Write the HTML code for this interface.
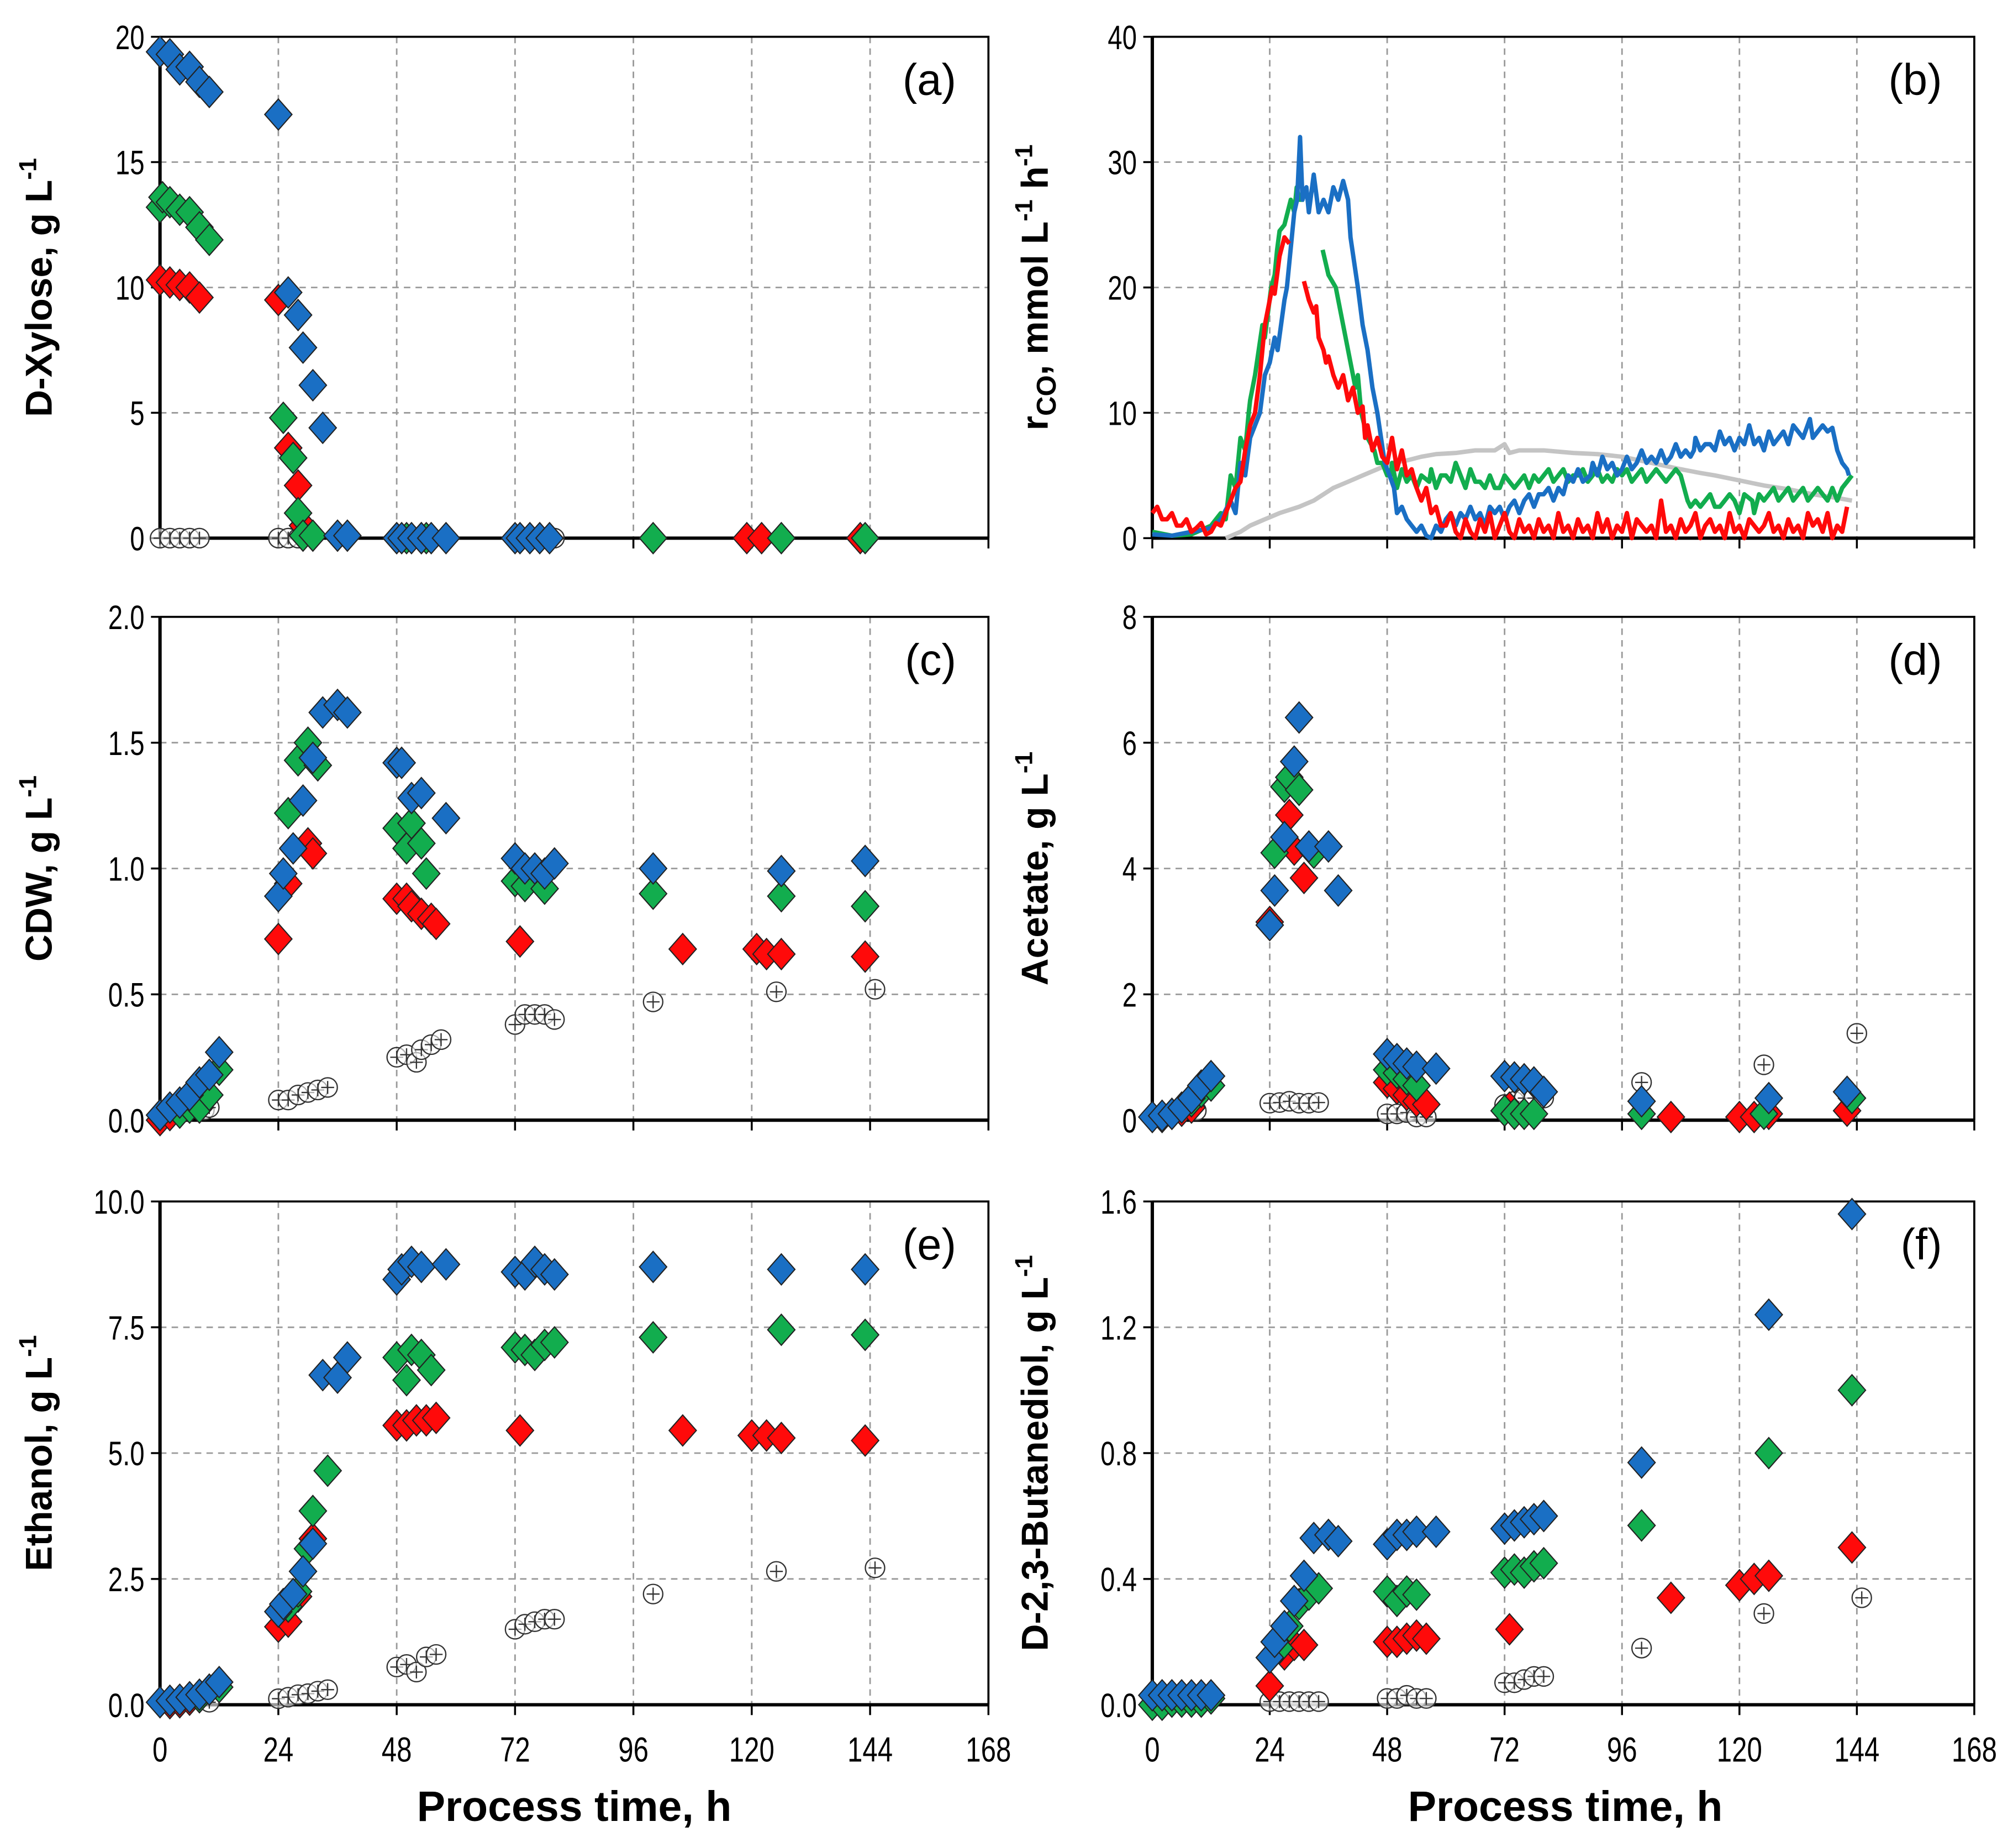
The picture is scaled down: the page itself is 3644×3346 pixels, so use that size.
<!DOCTYPE html>
<html><head><meta charset="utf-8"><style>
html,body{margin:0;padding:0;background:#fff}
svg{display:block}
text{font-family:"Liberation Sans",Arial,sans-serif}
</style></head><body>
<svg id="fig" width="3644" height="3346" viewBox="0 0 1560 1432" preserveAspectRatio="none" xmlns="http://www.w3.org/2000/svg"></svg>
<script>
const xTicks=[0,24,48,72,96,120,144,168];
// Panel (a) D-Xylose
const aBlue=[[0,19.4],[2,19.3],[4,18.7],[6,18.8],[8,18.2],[10,17.8],[24,16.9],[26,9.8],[28,8.9],[29,7.6],[31,6.1],[33,4.4],[36,0.1],[38,0.1],[48,0],[49,0],[51,0],[53,0],[55,0],[58,0],[72,0],[73,0],[75,0],[77,0],[79,0]];
const aGreen=[[0,13.2],[0.5,13.6],[2,13.4],[4,13.1],[6,13.0],[8,12.4],[10,11.9],[25,4.8],[27,3.2],[28,1.0],[29,0.1],[31,0.1],[50,0],[54,0],[100,0],[126,0],[143,0]];
const aRed=[[0,10.3],[2,10.2],[4,10.1],[6,10.0],[8,9.6],[24,9.5],[26,3.6],[28,2.1],[29,0.5],[48,0],[53,0],[119,0],[122,0],[142,0]];
const aBlack=[[0,0],[2,0],[4,0],[6,0],[8,0],[24,0],[26,0],[28,0],[48,0],[80,0]];
// Panel (b) rCO lines
const bBlue=[[0,0.3],[4,0.2],[8,0.5],[12,0.8],[14,1.5],[16,3],[17,2],[18,6],[19,5],[20,8],[21,9],[22,10],[23,13],[24,14],[25,16],[25.6,15],[27,19],[27.5,20],[29,26],[29.6,27],[30.2,32],[30.7,27],[31.5,28],[32,26],[33,29],[34,26],[35,27],[36,26],[37,28],[38,27],[39,28.5],[40,27],[40.5,24],[42,20],[43,17],[44,15],[45,12],[46,10],[47.5,6],[48.5,5],[49.4,4],[50,2],[51,2.5],[52,1.5],[53,1],[54,0.5],[55,1],[56,0.2],[57,0],[58,1],[59,0.5],[60,1.5],[61,2],[62,1],[63,2],[64,1.5],[65,2.5],[66,1.5],[67,2],[68,1],[69,2.5],[70,2],[71,2.5],[72,1.5],[73,2.5],[74,3],[75,2],[76,3],[77,3.5],[78,2.5],[79,3.5],[80,3.5],[81,4],[82,3],[83,4],[84,3.5],[85,5],[86,4.5],[87,5.5],[88,4.5],[89.5,5],[90,6],[91,5],[92,6.5],[93,5.5],[94,6],[95,5],[96,5.5],[97,6.5],[98,5.5],[99,6],[100,7],[101,6],[102,6.5],[103,6],[104,7],[105,6],[106,6.5],[107,7.5],[108,6.5],[109,7],[110,6.5],[110.7,7],[111,8],[112,7],[113,7.5],[114,7.5],[115,7],[116,8.5],[117,7.5],[118,8],[119,7],[120,8],[121,7.5],[122,9],[123,7.5],[124,8],[125,7],[126,8.5],[127,7.5],[128,8],[129,8.5],[130,7.5],[131,9],[132,8.5],[133,8],[134.4,9.5],[135,8],[136,8.5],[137,9],[138,8.5],[139,8.8],[140,7],[141,6],[142,5.5],[142.4,5]];
const bGreen=[[0,0.5],[4,0.2],[8,0.3],[12,1],[14,2],[15,1.5],[16,5],[17,4],[18,8],[19,7],[19.7,10],[20,11],[21,13],[22.5,17],[23,16],[24.3,20],[25,21],[25.5,23],[26,24.5],[27,25],[28.3,27],[29,26],[29.5,28],[30,27],[31,27],null,[34.8,23],[36,21],[37.5,20],[38,19],[39,17],[40,15],[41.5,12],[42,13],[42.7,10],[44,8],[45.4,7],[46,6],[47,6],[48,5],[48.7,5],[49,6],[50,4],[51,5.5],[52,4.5],[53,5],[54,4],[55,5],[56.6,4.5],[57,5.5],[58,4],[59,5],[60,5],[61,4.5],[62,6],[63,5],[64,4],[65,5.5],[66,4.5],[67,4.5],[68,4],[69,5],[70,4],[71,4],[72,5],[73,4.5],[74,4],[75,4.5],[76,5],[77,4],[78,5],[79,4.5],[80,5],[81,5.5],[82,4.5],[83,5],[84,5.5],[85,4.5],[86,5],[87,5],[88,5.5],[89,4.5],[90,5],[91,5.5],[92,4.5],[93,5],[94,4.5],[95,5.5],[96,5],[97,5.5],[98,4.5],[99,5],[100,5.5],[101,4.5],[102,5],[103,5.5],[104,5],[105,4.5],[106,5],[107,5.5],[108,5],[109.4,3],[110,2.5],[111,3],[112,2.5],[113,3],[114,3.5],[115,2.5],[116,2.5],[117,3],[118,3.5],[119,3],[120,2],[121,3.5],[122.6,3],[123,2],[124,3.5],[125,3],[126,3.5],[127,4],[128,3],[129,3.5],[130,4],[131,3],[132,3.5],[133,4],[134,3],[135,3.5],[136,4],[137,3.5],[138,3],[139,4],[140,3],[141,4],[142,4.5],[143,5]];
const bRed=[[0,2],[1,2.5],[2,1.5],[3,1.5],[4,2],[5,1],[6,1],[7,1.5],[8,0.5],[9,0.8],[10,1.2],[11,0.3],[12,0.5],[13,1.2],[14,1],[15.5,2.5],[17,4],[18,4.5],[19,7],[20,9],[21,10],[22,13],[23,17],[24.5,20],[25,19.5],[26,22.5],[27,24],[28,23.5],null,[31,20.5],[32,19],[33,18],[33.5,18.5],[34,16],[35,15],[35.5,14],[36,14.5],[37,13],[38,12],[39,13],[40,11],[41,12],[42,10],[43,10.5],[43.5,8],[44,9],[45,7],[46,8],[47,6.5],[48,6],[49,8],[50,5.5],[51,7],[52,5],[53,5.5],[54,4],[55,3],[56,4],[57,2],[58,2.5],[59,1],[60,1],[61,2],[62,0.5],[63,0],[64,1.5],[65,0.5],[66,0],[67,1.5],[68,0.5],[69,2],[70,0],[71,1],[72,2],[73,0.5],[74,0],[75,1.5],[76,0.5],[77,1],[78,0],[79,1.5],[80,0.5],[81,1],[82,0],[83,2],[84,0.5],[85,1],[86,0],[87,1.5],[88,0.5],[89,1],[90,0],[91,2],[92,0.5],[93,1.5],[94,0],[95,1],[96,0.5],[97,2],[98,0],[99,1.5],[100,1],[101,0.5],[102,1],[103,0],[104,3],[105,0.5],[106,1],[107,0],[108,1.5],[109,0.5],[110,1],[111,2],[112,0],[113,1],[114,1.5],[115,0.5],[116,1],[117,0],[118,2],[119,0.5],[120,1],[121,0],[122,1.5],[123,1],[124,0.5],[125,1],[126,2],[127,0.5],[128,1],[129,0],[130,1.5],[131,0.5],[132,1],[133,0],[134,2],[135,1],[136,1.5],[137,0.5],[138,2],[139,0],[140,1],[141,0.5],[142,2.5]];
const bGray=[[15,0],[18,0.5],[20,1],[23,1.5],[26,2],[30,2.5],[33,3],[37,4],[40,4.5],[43,5],[46,5.5],[49,6],[52,6.2],[55,6.5],[58,6.7],[62,6.8],[66,7],[70,7],[72,7.5],[73,6.8],[75,7],[80,7],[86,6.8],[91,6.7],[96,6.5],[102,6],[108,5.5],[112,5.2],[115,5],[120,4.6],[125,4.2],[130,3.9],[135,3.5],[140,3.2],[143,3]];
// Panel (c) CDW
const cBlue=[[0,0.02],[2,0.05],[4,0.07],[6,0.1],[8,0.15],[10,0.18],[12,0.27],[24,0.89],[25,0.98],[27,1.08],[29,1.27],[31,1.44],[33,1.62],[36,1.65],[38,1.62],[48,1.42],[49,1.42],[51,1.28],[53,1.3],[58,1.2],[72,1.04],[74,1.0],[76,1.0],[78,0.98],[80,1.02],[100,1.0],[126,0.99],[143,1.03]];
const cGreen=[[4,0.03],[6,0.05],[8,0.05],[10,0.1],[12,0.2],[26,1.22],[28,1.43],[30,1.5],[32,1.41],[48,1.16],[50,1.08],[51,1.18],[53,1.1],[54,0.98],[72,0.95],[74,0.93],[78,0.92],[100,0.9],[126,0.89],[143,0.85]];
const cRed=[[0,0.0],[2,0.02],[4,0.04],[6,0.05],[8,0.07],[24,0.72],[26,0.94],[30,1.1],[31,1.06],[48,0.88],[50,0.88],[51,0.85],[53,0.82],[55,0.8],[56,0.78],[73,0.71],[106,0.68],[121,0.68],[123,0.66],[126,0.66],[143,0.65]];
const cBlack=[[9,0.04],[10,0.05],[24,0.08],[26,0.08],[28,0.1],[30,0.11],[32,0.12],[34,0.13],[48,0.25],[50,0.26],[52,0.23],[53,0.28],[55,0.3],[57,0.32],[72,0.38],[74,0.42],[76,0.42],[78,0.42],[80,0.4],[100,0.47],[125,0.51],[145,0.52]];
// Panel (d) Acetate
const dBlue=[[0,0.05],[2,0.07],[4,0.1],[6,0.2],[8,0.35],[10,0.55],[12,0.7],[24,3.1],[25,3.65],[27,4.5],[29,5.7],[30,6.4],[32,4.35],[36,4.35],[38,3.65],[48,1.05],[50,0.97],[52,0.9],[54,0.85],[58,0.82],[72,0.7],[74,0.68],[76,0.65],[78,0.6],[80,0.45],[100,0.3],[126,0.35],[142,0.45]];
const dGreen=[[8,0.3],[10,0.45],[12,0.55],[25,4.25],[27,5.3],[28,5.45],[30,5.25],[33,4.25],[48,0.8],[50,0.75],[52,0.65],[54,0.55],[72,0.15],[74,0.1],[76,0.1],[78,0.1],[100,0.1],[125,0.1],[143,0.35]];
const dRed=[[2,0.05],[4,0.1],[6,0.15],[8,0.2],[24,3.15],[28,4.85],[29,4.3],[31,3.85],[48,0.6],[50,0.5],[52,0.4],[54,0.3],[56,0.25],[73,0.2],[106,0.05],[120,0.05],[123,0.05],[126,0.1],[142,0.15]];
const dBlack=[[9,0.15],[24,0.27],[26,0.28],[28,0.3],[30,0.27],[32,0.27],[34,0.28],[48,0.1],[50,0.1],[52,0.12],[54,0.05],[56,0.05],[72,0.25],[74,0.3],[76,0.35],[78,0.35],[80,0.35],[100,0.6],[125,0.88],[144,1.38]];
// Panel (e) Ethanol
const eBlue=[[0,0.05],[2,0.08],[4,0.1],[6,0.15],[8,0.2],[10,0.3],[12,0.45],[24,1.85],[25,2.0],[27,2.2],[29,2.65],[31,3.2],[33,6.55],[36,6.5],[38,6.9],[48,8.45],[49,8.65],[51,8.8],[53,8.7],[58,8.75],[72,8.6],[74,8.55],[76,8.8],[78,8.65],[80,8.55],[100,8.7],[126,8.65],[143,8.65]];
const eGreen=[[8,0.15],[10,0.3],[12,0.35],[26,1.95],[28,2.25],[30,3.1],[31,3.85],[34,4.65],[48,6.9],[50,6.45],[51,7.05],[53,6.95],[55,6.65],[72,7.1],[74,7.05],[76,6.95],[78,7.15],[80,7.2],[100,7.3],[126,7.45],[143,7.35]];
const eRed=[[2,0.03],[4,0.05],[6,0.1],[8,0.15],[24,1.55],[26,1.65],[28,2.15],[31,3.3],[48,5.55],[50,5.55],[52,5.65],[54,5.65],[56,5.7],[73,5.45],[106,5.45],[120,5.35],[123,5.35],[126,5.3],[143,5.25]];
const eBlack=[[10,0.05],[24,0.12],[26,0.15],[28,0.2],[30,0.22],[32,0.27],[34,0.3],[48,0.75],[50,0.8],[52,0.65],[54,0.95],[56,1.0],[72,1.5],[74,1.6],[76,1.65],[78,1.7],[80,1.7],[100,2.2],[125,2.65],[145,2.72]];
// Panel (f) D-2,3-Butanediol
const fBlue=[[0,0.03],[2,0.03],[4,0.03],[6,0.03],[8,0.03],[10,0.03],[12,0.03],[24,0.15],[25,0.2],[27,0.25],[29,0.33],[31,0.41],[33,0.53],[36,0.54],[38,0.52],[48,0.51],[50,0.54],[52,0.54],[54,0.55],[58,0.55],[72,0.56],[74,0.57],[76,0.58],[78,0.59],[80,0.6],[100,0.77],[126,1.24],[143,1.56]];
const fGreen=[[0,0.0],[2,0.0],[4,0.01],[6,0.01],[8,0.01],[10,0.01],[12,0.02],[26,0.18],[28,0.25],[30,0.32],[32,0.35],[34,0.37],[48,0.36],[50,0.33],[52,0.36],[54,0.35],[72,0.42],[74,0.43],[76,0.42],[78,0.44],[80,0.45],[100,0.57],[126,0.8],[143,1.0]];
const fRed=[[24,0.06],[27,0.16],[29,0.19],[31,0.19],[48,0.2],[50,0.2],[52,0.21],[54,0.22],[56,0.21],[73,0.24],[106,0.34],[120,0.38],[123,0.4],[126,0.41],[143,0.5]];
const fBlack=[[24,0.01],[26,0.01],[28,0.01],[30,0.01],[32,0.01],[34,0.01],[48,0.02],[50,0.02],[52,0.03],[54,0.02],[56,0.02],[72,0.07],[74,0.07],[76,0.08],[78,0.09],[80,0.09],[100,0.18],[125,0.29],[145,0.34]];

const aTicks=["0","5","10","15","20"], bTicks=["0","10","20","30","40"], cTicks=["0.0","0.5","1.0","1.5","2.0"], dTicks=["0","2","4","6","8"], eTicks=["0.0","2.5","5.0","7.5","10.0"], fTicks=["0.0","0.4","0.8","1.2","1.6"];

const NS="http://www.w3.org/2000/svg";
const svg=document.getElementById('fig');
const COL={blue:'#1a6fc4',green:'#12ad4e',red:'#ff0a0a',gray:'#c4c4c4'};
function el(tag,attrs,parent){const e=document.createElementNS(NS,tag);for(const k in attrs)e.setAttribute(k,attrs[k]);(parent||svg).appendChild(e);return e;}

function panel(cfg){
  const g=el('g',{});
  
  
  const X=t=>cfg.x0+(t/168)*(cfg.x1-cfg.x0);
  const ymax=parseFloat(cfg.ticks[cfg.ticks.length-1]);
  const Y=v=>cfg.y1-(v/ymax)*(cfg.y1-cfg.y0);
  for(let i=1;i<xTicks.length-1;i++){const l=el('line',{x1:X(xTicks[i]),x2:X(xTicks[i]),y1:cfg.y0,y2:cfg.y1,stroke:'#9a9a9a','stroke-width':1.2,'stroke-dasharray':'5,4'},g);}
  for(let i=1;i<cfg.ticks.length-1;i++){const v=parseFloat(cfg.ticks[i]);const l=el('line',{x1:cfg.x0,x2:cfg.x1,y1:Y(v),y2:Y(v),stroke:'#9a9a9a','stroke-width':1.2,'stroke-dasharray':'5,4'},g);}
  const fr=el('path',{d:`M${cfg.x0},${cfg.y0}H${cfg.x1}V${cfg.y1}`,fill:'none',stroke:'#000','stroke-width':1.6},g);
  
  const ya=el('line',{x1:cfg.x0,x2:cfg.x0,y1:cfg.y0,y2:cfg.y1,stroke:'#000','stroke-width':2.6},g);
  
  const xa=el('line',{x1:cfg.x0,x2:cfg.x1,y1:cfg.y1,y2:cfg.y1,stroke:'#000','stroke-width':2.6},g);
  
  cfg.ticks.forEach(t=>{const v=parseFloat(t);
    el('line',{x1:cfg.x0-7,x2:cfg.x0,y1:Y(v),y2:Y(v),stroke:'#000','stroke-width':1.5},g);
    const ax=cfg.x0-12;
    const tx=el('text',{x:ax,y:Y(v)+9.5,'font-size':26,'text-anchor':'end',fill:'#000',transform:`translate(${ax},0) scale(0.78,1) translate(${-ax},0)`},g);
    tx.textContent=t;});
  xTicks.forEach(t=>{el('line',{x1:X(t),x2:X(t),y1:cfg.y1,y2:cfg.y1+8,stroke:'#000','stroke-width':1.5},g);
    if(cfg.xlabels){const tx=el('text',{x:X(t),y:cfg.y1+44,'font-size':27,'text-anchor':'middle',fill:'#000',transform:`translate(${X(t)},0) scale(0.78,1) translate(${-X(t)},0)`},g);tx.textContent=t;}});
  const yt=el('text',{x:0,y:0,'font-size':29,'font-weight':'bold','text-anchor':'middle',fill:'#000',transform:`translate(${cfg.tx},${(cfg.y0+cfg.y1)/2}) rotate(-90)`},g);
  yt.innerHTML=cfg.title;
  const lt=el('text',{x:cfg.x1-25,y:cfg.y0+45,'font-size':34,'text-anchor':'end',fill:'#000'},g);
  lt.textContent='('+cfg.id+')';
  (cfg.lines||[]).forEach(([arr,c,nm])=>{
    let d='',pen=false;arr.forEach(p=>{if(!p){pen=false;return;}d+=(pen?'L':'M')+X(p[0]).toFixed(1)+','+Y(p[1]).toFixed(1);pen=true;});
    const pth=el('path',{d:d,fill:'none',stroke:COL[c],'stroke-width':3.4,'stroke-linejoin':'round'},g);
    });
  (cfg.circles||[]).forEach(arr=>arr.forEach(p=>{const cx=X(p[0]),cy=Y(p[1]);
    const c=el('circle',{cx:cx,cy:cy,r:7.5,fill:'#fff','fill-opacity':0.6,stroke:'#333','stroke-width':1},g);
    
    el('path',{d:`M${cx-5},${cy}H${cx+5}M${cx},${cy-5}V${cy+5}`,stroke:'#333','stroke-width':1},g);}));
  (cfg.dia||[]).forEach(([arr,c,nm])=>arr.forEach(p=>{const cx=X(p[0]),cy=Y(p[1]),s=12;
    const dm=el('path',{d:`M${cx},${cy-s}L${cx+s*0.88},${cy}L${cx},${cy+s}L${cx-s*0.88},${cy}Z`,fill:COL[c],stroke:'#222','stroke-width':0.9},g);
    }));
}
const L={x0:124,x1:766,tx:40}, R={x0:893,x1:1530,tx:812};
panel({id:'a',...L,y0:28.5,y1:417,ticks:aTicks,title:'D-Xylose, g L<tspan font-size="19" dy="-12">-1</tspan>',circles:[aBlack],dia:[[aRed,'red','xylose-red-point'],[aGreen,'green','xylose-green-point'],[aBlue,'blue','xylose-blue-point']]});
panel({id:'b',...R,y0:28.5,y1:417,ticks:bTicks,title:'r<tspan font-size="21" dy="6">CO</tspan><tspan dy="-6">, mmol L</tspan><tspan font-size="19" dy="-12">-1</tspan><tspan dy="12"> h</tspan><tspan font-size="19" dy="-12">-1</tspan>',lines:[[bGray,'gray','rco-gray-line'],[bGreen,'green','rco-green-line'],[bBlue,'blue','rco-blue-line'],[bRed,'red','rco-red-line']]});
panel({id:'c',...L,y0:478,y1:868,ticks:cTicks,title:'CDW, g L<tspan font-size="19" dy="-12">-1</tspan>',circles:[cBlack],dia:[[cRed,'red','cdw-red-point'],[cGreen,'green','cdw-green-point'],[cBlue,'blue','cdw-blue-point']]});
panel({id:'d',...R,y0:478,y1:868,ticks:dTicks,title:'Acetate, g L<tspan font-size="19" dy="-12">-1</tspan>',circles:[dBlack],dia:[[dRed,'red','acetate-red-point'],[dGreen,'green','acetate-green-point'],[dBlue,'blue','acetate-blue-point']]});
panel({id:'e',...L,y0:931,y1:1321,ticks:eTicks,xlabels:true,title:'Ethanol, g L<tspan font-size="19" dy="-12">-1</tspan>',circles:[eBlack],dia:[[eRed,'red','ethanol-red-point'],[eGreen,'green','ethanol-green-point'],[eBlue,'blue','ethanol-blue-point']]});
panel({id:'f',...R,y0:931,y1:1321,ticks:fTicks,xlabels:true,title:'D-2,3-Butanediol, g L<tspan font-size="19" dy="-12">-1</tspan>',circles:[fBlack],dia:[[fRed,'red','bdo-red-point'],[fGreen,'green','bdo-green-point'],[fBlue,'blue','bdo-blue-point']]});
[[445,'x-axis-title-left'],[1213,'x-axis-title-right']].forEach(([x,n])=>{const t=el('text',{x:x,y:1411,'font-size':33,'font-weight':'bold','text-anchor':'middle',fill:'#000'});t.textContent='Process time, h';

});
</script>
</body></html>
